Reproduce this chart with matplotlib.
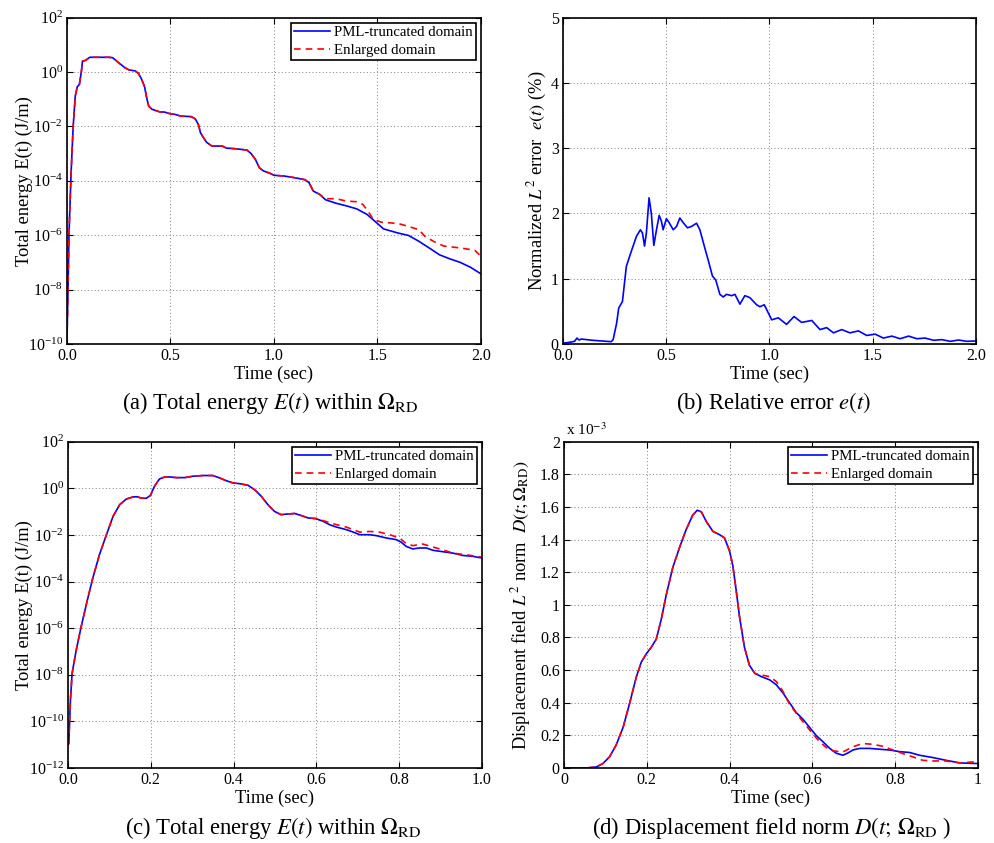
import matplotlib
matplotlib.use("Agg")
import matplotlib.pyplot as plt
import numpy as np
from matplotlib.ticker import FixedLocator, NullLocator

plt.rcParams["font.family"] = ["Liberation Serif", "DejaVu Serif"]
plt.rcParams["mathtext.fontset"] = "stix"

# (a) total energy, long run (t in sec, E in J/m)
t_a = [0.0, 0.005, 0.01, 0.02, 0.03, 0.04, 0.05, 0.06, 0.07, 0.075, 0.09, 0.11,
       0.2, 0.22, 0.25, 0.28, 0.3, 0.33, 0.345, 0.36, 0.375, 0.385, 0.395, 0.41,
       0.45, 0.47, 0.5, 0.52, 0.55, 0.6, 0.62, 0.635, 0.645, 0.66, 0.675, 0.7,
       0.75, 0.77, 0.82, 0.87, 0.89, 0.91, 0.93, 0.95, 0.98, 1.0, 1.05, 1.1,
       1.15, 1.17, 1.19, 1.22, 1.25, 1.3, 1.35, 1.4, 1.45, 1.5, 1.53, 1.6,
       1.65, 1.7, 1.75, 1.8, 1.85, 1.9, 1.95, 2.0]
E_a_pml = [1.4e-10, 1e-8, 1.2e-6, 2e-4, 1e-2, 0.13, 0.29, 0.35, 1.1, 2.5, 2.7, 3.5,
           3.5, 3.4, 2.2, 1.45, 1.2, 1.1, 0.9, 0.56, 0.29, 0.115, 0.056, 0.043,
           0.034, 0.034, 0.029, 0.028, 0.024, 0.023, 0.019, 0.0118, 0.0059, 0.0038, 0.0026, 0.0019,
           0.0019, 0.0016, 0.0015, 0.00135, 0.001, 6.2e-4, 3e-4, 2.3e-4, 1.9e-4, 1.6e-4, 1.5e-4, 1.3e-4,
           1.1e-4, 8.5e-5, 4.2e-5, 3.2e-5, 2e-5, 1.5e-5, 1.2e-5, 9.3e-6, 5.8e-6, 2.7e-6, 1.7e-6, 1.2e-6,
           9.8e-7, 6e-7, 3.4e-7, 1.9e-7, 1.35e-7, 1e-7, 6.6e-8, 3.8e-8]
t_a_late = [1.25, 1.3, 1.35, 1.4, 1.43, 1.46, 1.48, 1.52, 1.6, 1.65, 1.7, 1.73,
            1.77, 1.82, 1.9, 1.97, 2.0]
E_a_big_late = [2.2e-5, 2.2e-5, 1.8e-5, 1.7e-5, 1.35e-5, 6.6e-6, 3.8e-6, 3e-6, 2.7e-6,
                2.1e-6, 1.6e-6, 9e-7, 6e-7, 4e-7, 3.4e-7, 2.8e-7, 1.7e-7]

# (b) normalized L2 error (%)
t_b = [0.0, 0.04, 0.056, 0.068, 0.078, 0.089, 0.146, 0.234, 0.243, 0.26, 0.27, 0.288,
       0.307, 0.331, 0.356, 0.375, 0.385, 0.395, 0.404, 0.417, 0.428, 0.44, 0.453,
       0.466, 0.477, 0.485, 0.501, 0.514, 0.534, 0.55, 0.566, 0.582, 0.603, 0.622,
       0.647, 0.663, 0.687, 0.703, 0.724, 0.74, 0.76, 0.776, 0.792, 0.817, 0.833,
       0.857, 0.881, 0.905, 0.938, 0.954, 0.975, 0.986, 1.011, 1.043, 1.083, 1.119,
       1.156, 1.205, 1.245, 1.277, 1.31, 1.35, 1.39, 1.431, 1.471, 1.512, 1.552,
       1.593, 1.633, 1.674, 1.714, 1.754, 1.795, 1.835, 1.876, 1.916, 1.956, 2.0]
err_b = [0.01, 0.03, 0.04, 0.09, 0.06, 0.075, 0.055, 0.035, 0.066, 0.32, 0.55, 0.65,
         1.19, 1.42, 1.65, 1.75, 1.70, 1.5, 1.7, 2.24, 2.0, 1.51, 1.75,
         1.97, 1.88, 1.75, 1.92, 1.86, 1.75, 1.80, 1.93, 1.86, 1.78, 1.80,
         1.85, 1.75, 1.47, 1.29, 1.04, 0.98, 0.76, 0.72, 0.76, 0.74, 0.76,
         0.61, 0.74, 0.71, 0.60, 0.57, 0.60, 0.53, 0.37, 0.40, 0.30, 0.42,
         0.33, 0.36, 0.22, 0.25, 0.17, 0.22, 0.17, 0.20, 0.13, 0.15, 0.09,
         0.12, 0.08, 0.12, 0.08, 0.09, 0.056, 0.066, 0.04, 0.06, 0.04, 0.046]

# (c) total energy, short run (log10 of E)
t_c = [0.0, 0.002, 0.006, 0.01, 0.02, 0.032, 0.046, 0.06, 0.076, 0.093, 0.109, 0.125,
       0.141, 0.157, 0.167, 0.177, 0.189, 0.199, 0.209, 0.221, 0.234, 0.246, 0.262,
       0.282, 0.302, 0.326, 0.35, 0.366, 0.382, 0.399, 0.415, 0.435, 0.451, 0.467,
       0.483, 0.499, 0.515, 0.531, 0.548, 0.564, 0.58, 0.6, 0.616, 0.632, 0.648,
       0.672, 0.688, 0.705, 0.729, 0.745, 0.769, 0.793, 0.805, 0.817, 0.833, 0.849,
       0.866, 0.882, 0.906, 0.93, 0.954, 0.978, 1.0]
logE_c_pml = [-11.0, -10.96, -9.09, -7.94, -6.94, -5.93, -4.86, -3.85, -2.85, -1.99, -1.2, -0.7,
              -0.46, -0.37, -0.36, -0.42, -0.43, -0.31, 0.09, 0.4, 0.49, 0.49, 0.46,
              0.46, 0.52, 0.55, 0.55, 0.45, 0.33, 0.23, 0.2, 0.13, -0.06, -0.34,
              -0.7, -0.99, -1.13, -1.1, -1.08, -1.17, -1.27, -1.31, -1.41, -1.56, -1.66,
              -1.77, -1.87, -1.99, -1.99, -2.03, -2.13, -2.2, -2.31, -2.49, -2.6, -2.56,
              -2.56, -2.66, -2.72, -2.78, -2.88, -2.92, -2.99]
t_c_late = [0.6, 0.64, 0.672, 0.705, 0.729, 0.753, 0.777, 0.801, 0.817, 0.833, 0.857,
            0.882, 0.906, 0.93, 0.962, 1.0]
logE_c_big_late = [-1.29, -1.52, -1.66, -1.88, -1.85, -1.88, -1.99, -2.13, -2.37, -2.46, -2.39,
                   -2.52, -2.64, -2.78, -2.85, -2.95]

# (d) displacement L2 norm (x 1e-3)
t_d = [0.0, 0.054, 0.078, 0.094, 0.11, 0.126, 0.143, 0.159, 0.175, 0.187, 0.199, 0.211,
       0.223, 0.235, 0.247, 0.263, 0.279, 0.295, 0.311, 0.322, 0.332, 0.344, 0.36,
       0.376, 0.388, 0.4, 0.408, 0.416, 0.424, 0.436, 0.448, 0.461, 0.477, 0.497,
       0.513, 0.529, 0.545, 0.561, 0.577, 0.593, 0.609, 0.626, 0.642, 0.658, 0.674,
       0.686, 0.698, 0.714, 0.738, 0.762, 0.787, 0.811, 0.835, 0.859, 0.891, 0.923,
       0.956, 1.0]
D_d_pml = [0.0, 0.0, 0.006, 0.027, 0.068, 0.14, 0.25, 0.40, 0.56, 0.65, 0.70, 0.74,
           0.79, 0.91, 1.06, 1.23, 1.35, 1.46, 1.55, 1.58, 1.57, 1.51, 1.45,
           1.43, 1.41, 1.33, 1.24, 1.09, 0.93, 0.74, 0.63, 0.58, 0.56, 0.54,
           0.51, 0.46, 0.40, 0.34, 0.30, 0.25, 0.20, 0.16, 0.12, 0.09, 0.078,
           0.092, 0.11, 0.12, 0.12, 0.115, 0.11, 0.10, 0.095, 0.078, 0.064, 0.047,
           0.031, 0.027]
t_d_late = [0.477, 0.497, 0.513, 0.529, 0.545, 0.569, 0.585, 0.601, 0.618, 0.634, 0.65,
            0.674, 0.698, 0.722, 0.746, 0.77, 0.795, 0.819, 0.843, 0.867, 0.891, 0.923,
            0.956, 0.988, 1.0]
D_d_big_late = [0.57, 0.56, 0.53, 0.47, 0.39, 0.31, 0.26, 0.21, 0.16, 0.125, 0.105,
                0.098, 0.13, 0.15, 0.145, 0.133, 0.11, 0.088, 0.068, 0.047, 0.043, 0.043,
                0.031, 0.037, 0.037]

leg_labels = ["PML-truncated domain", "Enlarged domain"]


def join(t_full, v_full, t_late, v_late):
    # enlarged domain = PML curve up to where they split, then its own points
    t_full = np.array(t_full)
    keep = t_full < t_late[0]
    return (np.concatenate([t_full[keep], t_late]),
            np.concatenate([np.array(v_full)[keep], v_late]))


def style(ax, xt, xl, yl, ylx):
    ax.set_xlim(xt[0], xt[-1])
    ax.xaxis.set_major_locator(FixedLocator(xt))
    ax.set_xticklabels(xl)
    ax.yaxis.set_minor_locator(NullLocator())
    ax.xaxis.set_minor_locator(NullLocator())
    ax.grid(True, linestyle=(0, (1, 2.5)), color="#808080", linewidth=0.7)
    ax.tick_params(direction="in", top=True, right=True, length=4, labelsize=11.5, pad=3)
    ax.set_xlabel("Time (sec)", fontsize=13.3, labelpad=1)
    ax.set_ylabel(yl, fontsize=13.3)
    # ylabel anchor is the right-hand side of the rotated text
    ax.yaxis.set_label_coords(ylx, 0.5)
    for s in ax.spines.values():
        s.set_linewidth(1.2)


def legend(ax):
    lg = ax.legend(loc="upper right", fontsize=10.7, fancybox=False, framealpha=1,
                   edgecolor="black", handlelength=2.4, borderpad=0.2,
                   labelspacing=0.3, borderaxespad=0.35, handletextpad=0.3)
    lg.get_frame().set_linewidth(1.2)


fig = plt.figure(figsize=(9.95, 8.43), dpi=100)
ax_a = fig.add_axes([0.0673, 0.592, 0.416, 0.387])
ax_b = fig.add_axes([0.5658, 0.592, 0.415, 0.387])
ax_c = fig.add_axes([0.0683, 0.089, 0.416, 0.387])
ax_d = fig.add_axes([0.5668, 0.089, 0.416, 0.387])

e_label = "Total energy E(t) (J/m)"

# (a)
ta_r, Ea_r = join(t_a, E_a_pml, t_a_late, E_a_big_late)
ax_a.semilogy(t_a, E_a_pml, color="blue", lw=1.2, label=leg_labels[0])
ax_a.semilogy(ta_r, Ea_r, color="red", lw=1.2, ls=(0, (4, 3)), label=leg_labels[1])
ax_a.set_ylim(1e-10, 1e2)
ax_a.set_yticks([10.0 ** k for k in range(-10, 3, 2)])
style(ax_a, [0, 0.5, 1.0, 1.5, 2.0], ["0.0", "0.5", "1.0", "1.5", "2.0"], e_label, -0.082)
ax_a.yaxis.set_minor_locator(NullLocator())
legend(ax_a)

# (b)
ax_b.plot(t_b, err_b, color="blue", lw=1.2)
ax_b.set_ylim(0, 5)
ax_b.set_yticks([0, 1, 2, 3, 4, 5])
style(ax_b, [0, 0.5, 1.0, 1.5, 2.0], ["0.0", "0.5", "1.0", "1.5", "2.0"],
      r"Normalized $L^2$ error  $e(t)$ (%)", -0.034)

# (c)
tc_r, lc_r = join(t_c, logE_c_pml, t_c_late, logE_c_big_late)
ax_c.semilogy(t_c, 10.0 ** np.array(logE_c_pml), color="blue", lw=1.2, label=leg_labels[0])
ax_c.semilogy(tc_r, 10.0 ** lc_r, color="red", lw=1.2, ls=(0, (4, 3)), label=leg_labels[1])
ax_c.set_ylim(1e-12, 1e2)
ax_c.set_yticks([10.0 ** k for k in range(-12, 3, 2)])
style(ax_c, [0, 0.2, 0.4, 0.6, 0.8, 1.0], ["0.0", "0.2", "0.4", "0.6", "0.8", "1.0"], e_label, -0.085)
ax_c.yaxis.set_minor_locator(NullLocator())
legend(ax_c)

# (d)
td_r, Dd_r = join(t_d, D_d_pml, t_d_late, D_d_big_late)
ax_d.plot(t_d, D_d_pml, color="blue", lw=1.2, label=leg_labels[0])
ax_d.plot(td_r, Dd_r, color="red", lw=1.2, ls=(0, (4, 3)), label=leg_labels[1])
ax_d.set_ylim(0, 2)
ax_d.set_yticks(np.arange(0, 2.01, 0.2))
ax_d.set_yticklabels(["0", "0.2", "0.4", "0.6", "0.8", "1", "1.2", "1.4", "1.6", "1.8", "2"])
style(ax_d, [0, 0.2, 0.4, 0.6, 0.8, 1.0], ["0", "0.2", "0.4", "0.6", "0.8", "1"],
      r"Displacement field $L^2$ norm  $D(t;\Omega_{\rm RD})$", -0.076)
ax_d.text(0.005, 1.01, r"x 10$^{-3}$", transform=ax_d.transAxes, fontsize=11,
          ha="left", va="bottom")
legend(ax_d)

cap = dict(fontsize=16.3, ha="center", va="center")
fig.text(0.272, 0.522, r"(a) Total energy $E(t)$ within $\Omega_{\rm RD}$", **cap)
fig.text(0.777, 0.522, r"(b) Relative error $e(t)$", **cap)
fig.text(0.275, 0.018, r"(c) Total energy $E(t)$ within $\Omega_{\rm RD}$", **cap)
fig.text(0.776, 0.018, r"(d) Displacement field norm $D(t;\,\Omega_{\rm RD}$ )", **cap)

fig.savefig("out.png", dpi=100)
